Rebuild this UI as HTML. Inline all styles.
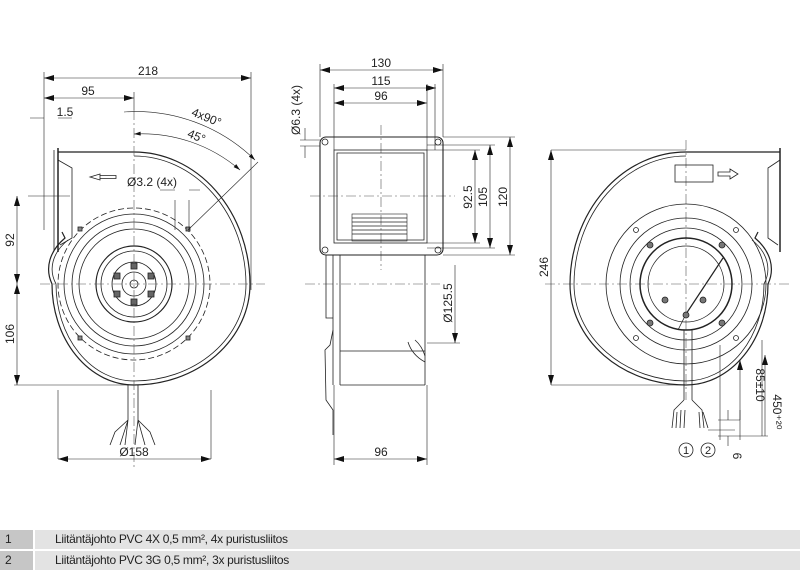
<!DOCTYPE html>
<html><head><meta charset="utf-8"><style>
body{margin:0;background:#fff;width:800px;height:571px;overflow:hidden;font-family:"Liberation Sans",sans-serif}
svg{position:absolute;left:0;top:0}
.t{font-family:"Liberation Sans",sans-serif;font-size:12px;fill:#222}
.row{position:absolute;left:0;width:800px;height:19px;font-size:12px;color:#222;line-height:19px;letter-spacing:-0.3px}
.c1{position:absolute;left:0;width:33px;height:19px;background:#c6c6c6;padding-left:5px;box-sizing:border-box}
.c2{position:absolute;left:35px;right:0;height:19px;background:#e3e3e3;padding-left:20px}
</style></head><body>
<svg width="800" height="520" viewBox="0 0 800 520">
<defs>
<marker id="a" viewBox="0 0 10 6" refX="10" refY="3" markerWidth="10" markerHeight="6" orient="auto-start-reverse" markerUnits="userSpaceOnUse"><path d="M0,0L10,3L0,6z" fill="#111"/></marker>
<marker id="b" viewBox="0 0 10 6" refX="10" refY="3" markerWidth="8" markerHeight="4" orient="auto-start-reverse" markerUnits="userSpaceOnUse"><path d="M0,0L10,3L0,6z" fill="#111"/></marker>
</defs>
<g stroke="#222" fill="none" stroke-width="0.8">
<g id="L">
<path d="M58,148 L58,252" stroke-width="1.5"/>
<path d="M54,150 L54,250"/>
<path d="M58,152 L134,152 A116 133 0 0 1 250 284 A116 101 0 0 1 134 385 A82 101 0 0 1 52 284 A82 52 0 0 1 65 238 L62,232" stroke-width="1.2"/>
<path d="M134,156 A112 129 0 0 1 246 284 A112 97 0 0 1 134 381 A78 97 0 0 1 56 284 A78 48 0 0 1 68 240"/>
<path d="M58,160 L72,168 L72,238 L60,245"/>
<circle cx="134" cy="284" r="76" stroke-dasharray="6 3"/>
<circle cx="134" cy="284" r="70"/>
<circle cx="134" cy="284" r="62"/>
<circle cx="134" cy="284" r="55"/>
<circle cx="134" cy="284" r="38" stroke-width="1.2"/>
<circle cx="134" cy="284" r="33"/>
<circle cx="134" cy="284" r="22"/>
<circle cx="134" cy="284" r="12"/>
<circle cx="134" cy="284" r="4"/>
<g fill="#666"><rect x="131" y="263" width="6" height="6"/><rect x="131" y="299" width="6" height="6"/><rect x="114" y="273" width="6" height="6"/><rect x="148" y="273" width="6" height="6"/><rect x="114" y="291" width="6" height="6"/><rect x="148" y="291" width="6" height="6"/></g>
<g fill="#888"><rect x="78" y="227" width="4" height="4"/><rect x="186" y="227" width="4" height="4"/><rect x="78" y="336" width="4" height="4"/><rect x="186" y="336" width="4" height="4"/></g>
<path d="M100,174 L90,177 L100,180 z M100,175.5 L116,175.5 L116,178.5 L100,178.5"/>
<path d="M128,385 L128,420 M138,385 L138,420 M128,420 L115,432 L110,445 M128,420 L120,445 M138,420 L135,445 M138,420 L150,432 L155,445 M128,420 L125,445 M138,420 L145,445"/>
</g>
<g stroke-dasharray="10 3 2 3" stroke="#555" stroke-width="0.6">
<path d="M134,110 L134,470 M40,284 L265,284"/>
<path d="M381,125 L381,270 M310,196 L455,196 M305,284 L440,284"/>
<path d="M686,140 L686,400 M545,284 L790,284"/>
</g>
<g stroke-width="0.6">
<path d="M44,72 L44,230 M251,72 L251,290 M134,92 L134,110 M44,108 L44,118 M28,196 L70,196 M14,385 L134,385 M58,459 L58,390 M211,459 L211,390 M175,200 L175,230 M189,200 L189,230"/>
<path d="M44,78 L251,78" marker-start="url(#a)" marker-end="url(#a)"/>
<path d="M44,98 L134,98" marker-start="url(#a)" marker-end="url(#a)"/>
<path d="M30,118 L44,118 M58,118 L72,118" />
<path d="M17,196 L17,284" marker-start="url(#a)" marker-end="url(#a)"/>
<path d="M17,284 L17,385" marker-start="url(#a)" marker-end="url(#a)"/>
<path d="M58,459 L211,459" marker-start="url(#a)" marker-end="url(#a)"/>
<path d="M160,190 L175,190 M189,190 L200,190"/>
<path d="M134,134 A150 150 0 0 1 240 170" marker-start="url(#b)" marker-end="url(#b)"/>
<path d="M124,112 A170 170 0 0 1 255 160" marker-end="url(#b)"/>
<path d="M188,230 L258,162"/>
</g>
<rect x="320" y="137" width="123" height="118" rx="6" stroke-width="1.1"/>
<rect x="334" y="150" width="93" height="93"/>
<path d="M337,153 L424,153 L424,240 L337,240z"/>
<g><circle cx="325" cy="142" r="3"/><circle cx="438" cy="142" r="3"/><circle cx="325" cy="250" r="3"/><circle cx="438" cy="250" r="3"/></g>
<rect x="352" y="214" width="55" height="27" stroke-width="0.6"/>
<path d="M352,218 L407,218 M352,222 L407,222 M352,226 L407,226 M352,230 L407,230 M352,234 L407,234"/>
<path d="M333,255 L333,385 M340,255 L340,385 M425,255 L425,385 M340,351 L425,351 M340,385 L425,385"/>
<path d="M326,255 L326,318 L333,318 M326,255 L333,255"/>
<path d="M333,330 L330,345 L325,350 L326,400 L333,410 L333,435"/>
<path d="M415,340 Q422,346 425,356 M408,342 Q412,355 425,362"/>
<g stroke-width="0.6">
<path d="M320,64 L320,137 M443,64 L443,137 M334,84 L334,150 M427,84 L427,150 M435,84 L435,150 M334,98 L334,150 M334,385 L334,465 M427,385 L427,465 M443,137 L515,137 M443,255 L515,255 M427,145 L495,145 M427,248 L495,248 M427,150 L480,150 M427,243 L480,243 M427,343 L460,343 M300,140 L320,140 M300,146 L320,146"/>
<path d="M320,70 L443,70" marker-start="url(#a)" marker-end="url(#a)"/>
<path d="M334,88 L436,88" marker-start="url(#a)" marker-end="url(#a)"/>
<path d="M334,103 L427,103" marker-start="url(#a)" marker-end="url(#a)"/>
<path d="M475,150 L475,243" marker-start="url(#a)" marker-end="url(#a)"/>
<path d="M490,145 L490,248" marker-start="url(#a)" marker-end="url(#a)"/>
<path d="M510,137 L510,255" marker-start="url(#a)" marker-end="url(#a)"/>
<path d="M455,265 L455,343" marker-end="url(#a)"/>
<path d="M334,459 L427,459" marker-start="url(#a)" marker-end="url(#a)"/>
<path d="M305,128 L305,140 M305,146 L305,158"/>
</g>
<g>
<path d="M780,148 L780,252" stroke-width="1.5"/>
<path d="M780,152 L686,152 A116 133 0 0 0 570 284 A116 101 0 0 0 686 385 A82 101 0 0 0 768 284 A82 52 0 0 0 755 238 L758,232" stroke-width="1.2"/>
<path d="M686,156 A112 129 0 0 0 574 284 A112 97 0 0 0 686 381 A78 97 0 0 0 764 284 A78 48 0 0 0 752 240"/>
<path d="M780,160 L768,168 L768,238 L778,245"/>
<rect x="675" y="165" width="38" height="17"/>
<path d="M718,172 L730,172 L730,169 L738,174 L730,179 L730,176 L718,176z"/>
<circle cx="686" cy="284" r="80"/>
<circle cx="686" cy="284" r="66"/>
<circle cx="686" cy="284" r="56"/>
<circle cx="686" cy="284" r="46" stroke-width="1.5"/>
<circle cx="686" cy="284" r="38"/>
<path d="M686,314 L723,258" stroke-width="1.2"/>
<path d="M686,314 L678,330" />
<g fill="#777"><circle cx="650" cy="245" r="3"/><circle cx="722" cy="245" r="3"/><circle cx="650" cy="323" r="3"/><circle cx="722" cy="323" r="3"/><circle cx="665" cy="300" r="3"/><circle cx="703" cy="300" r="3"/><circle cx="686" cy="315" r="3"/></g>
<g><circle cx="636" cy="230" r="2.5"/><circle cx="736" cy="230" r="2.5"/><circle cx="636" cy="338" r="2.5"/><circle cx="736" cy="338" r="2.5"/></g>
<path d="M684,330 L684,400 M692,330 L692,400 M684,400 L674,410 L672,428 M692,400 L702,410 L704,428 M677,412 L676,428 M681,410 L680,428 M685,410 L684,428 M699,412 L700,428 M703,412 L708,428"/>
</g>
<g stroke-width="0.6">
<path d="M551,150 L686,150 M551,385 L686,385 M720,345 L720,440 M740,410 L740,440 M718,420 L740,420 M718,436 L768,436 M762,340 L762,436 M708,430 L735,430"/>
<path d="M551,150 L551,385" marker-start="url(#a)" marker-end="url(#a)"/>
<path d="M740,360 L740,420" marker-start="url(#a)"/>
<path d="M765,355 L765,436" marker-start="url(#a)"/>
<path d="M728,410 L728,420 M728,436 L728,446"/>
</g>
<circle cx="686" cy="450" r="7"/><circle cx="708" cy="450" r="7"/>
</g>
<g class="t" text-anchor="middle">
<text x="148" y="75">218</text>
<text x="88" y="95">95</text>
<text x="65" y="116">1.5</text>
<text x="205" y="121" transform="rotate(22 205 121)">4x90°</text>
<text x="195" y="140" transform="rotate(22 195 140)">45°</text>
<text x="152" y="186">Ø3.2 (4x)</text>
<text x="14" y="240" transform="rotate(-90 14 240)">92</text>
<text x="14" y="334" transform="rotate(-90 14 334)">106</text>
<text x="134" y="456">Ø158</text>
<text x="381" y="67">130</text>
<text x="381" y="85">115</text>
<text x="381" y="100">96</text>
<text x="300" y="110" transform="rotate(-90 300 110)">Ø6.3 (4x)</text>
<text x="472" y="197" transform="rotate(-90 472 197)">92.5</text>
<text x="487" y="197" transform="rotate(-90 487 197)">105</text>
<text x="507" y="197" transform="rotate(-90 507 197)">120</text>
<text x="452" y="303" transform="rotate(-90 452 303)">Ø125.5</text>
<text x="381" y="456">96</text>
<text x="548" y="267" transform="rotate(-90 548 267)">246</text>
<text x="756" y="385" transform="rotate(90 756 385)">85±10</text>
<text x="773" y="412" transform="rotate(90 773 412)">450⁺²⁰</text>
<text x="733" y="456" transform="rotate(90 733 456)">6</text>
<text x="686" y="454" font-size="11">1</text>
<text x="708" y="454" font-size="11">2</text>
</g>
</svg>
<div class="row" style="top:530px"><div class="c1">1</div><div class="c2">Liitäntäjohto PVC 4X 0,5 mm², 4x puristusliitos</div></div>
<div class="row" style="top:551px"><div class="c1">2</div><div class="c2">Liitäntäjohto PVC 3G 0,5 mm², 3x puristusliitos</div></div>
</body></html>
